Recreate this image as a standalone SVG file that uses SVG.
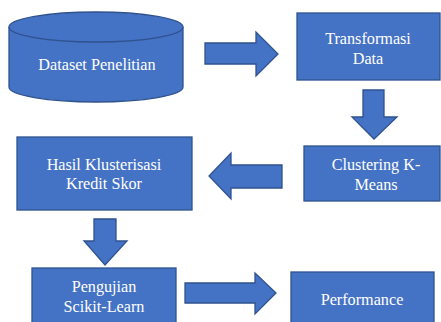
<svg xmlns="http://www.w3.org/2000/svg" width="441" height="322" viewBox="0 0 441 322">
<style>
.s{fill:#4472C4;stroke:#2F528F;stroke-width:1.3}
.t{fill:#ffffff;font-family:"Liberation Serif","Times New Roman",serif;font-size:16.2px;text-anchor:middle}
</style>
<rect width="441" height="322" fill="#ffffff"/>
<g id="connectors">
<path class="s" d="M205,43 H256 V32 L278,54 L256,76 V64 H205 Z"/>
<path class="s" d="M363,90 H384 V117 H397 L374,139 L352,117 H363 Z"/>
<path class="s" d="M282,165 H231 V153 L209,176 L231,199 V188 H282 Z"/>
<path class="s" d="M94,219 H116 V241 H127 L105,265 L84,241 H94 Z"/>
<path class="s" d="M185,283 H255 V273 L276,293 L255,314 V303 H185 Z"/>
</g>
<g id="dataset">
<path class="s" d="M9,27 V87 A87,15 0 0 0 183,87 V27"/>
<ellipse class="s" cx="96" cy="27" rx="87" ry="15"/>
<text class="t" x="97" y="70">Dataset Penelitian</text>
</g>
<g id="transformasi">
<rect class="s" x="297" y="13" width="143" height="67"/>
<text class="t" x="368" y="44">Transformasi</text>
<text class="t" x="368" y="64">Data</text>
</g>
<g id="clustering">
<rect class="s" x="304" y="146" width="136" height="55"/>
<text class="t" x="376" y="170">Clustering K-</text>
<text class="t" x="376" y="190">Means</text>
</g>
<g id="hasil">
<rect class="s" x="17" y="137" width="175" height="73"/>
<text class="t" x="104" y="170">Hasil Klusterisasi</text>
<text class="t" x="104" y="189">Kredit Skor</text>
</g>
<g id="pengujian">
<rect class="s" x="32" y="268" width="144" height="60"/>
<text class="t" x="104" y="292">Pengujian</text>
<text class="t" x="104" y="312">Scikit-Learn</text>
</g>
<g id="performance">
<rect class="s" x="291" y="272" width="143" height="56"/>
<text class="t" x="362" y="305">Performance</text>
</g>
</svg>
